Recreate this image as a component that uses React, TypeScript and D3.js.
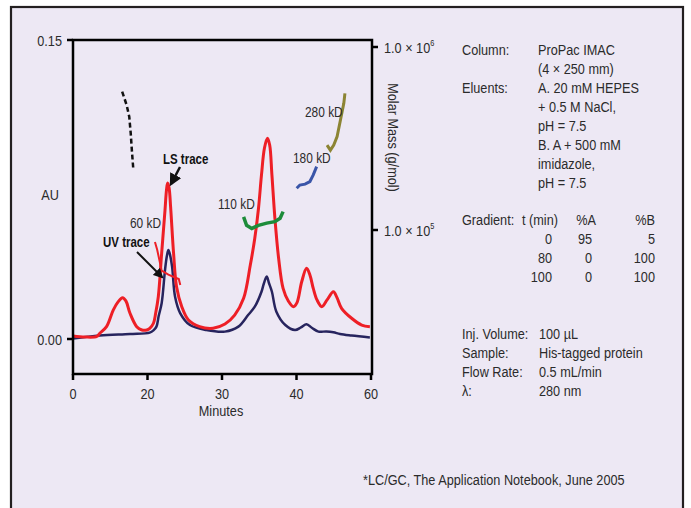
import React from "react";
import * as d3 from "d3";

const width = 691;
const height = 508;

// minutes vs AU
const lsTime = [0, 3.2, 6.4, 7.2, 9.0, 10.8, 12.1, 13.3, 14.2, 15.3, 17.1, 18.5, 19.8, 20.3, 20.8, 21.1, 21.45, 21.9, 22.35, 22.55, 22.7, 22.9, 23.1, 23.5, 23.9, 24.6, 25.5, 27.0, 28.8, 30.4, 31.7, 32.9, 33.8, 34.4, 34.9, 35.3, 35.7, 36.1, 36.4, 36.7, 37.1, 37.6, 38.2, 38.9, 39.6, 40.1, 41.4, 42.7, 43.6, 44.5, 45.5, 46.8, 48.2, 49.9, 50.9, 52.1, 54.8, 57.5, 59.7];
const lsAU = [0.0015, 0.001, 0.0013, 0.0029, 0.0062, 0.0145, 0.0186, 0.0207, 0.0191, 0.0129, 0.0062, 0.0045, 0.0045, 0.0053, 0.0079, 0.013, 0.0212, 0.043, 0.0647, 0.0748, 0.0783, 0.0758, 0.0664, 0.043, 0.0262, 0.0162, 0.0095, 0.0062, 0.0054, 0.0075, 0.012, 0.0204, 0.0371, 0.0505, 0.0656, 0.0823, 0.0958, 0.1007, 0.0973, 0.0823, 0.0606, 0.0405, 0.0254, 0.0191, 0.0162, 0.0181, 0.0287, 0.0355, 0.0321, 0.0254, 0.0196, 0.0162, 0.0196, 0.0237, 0.0206, 0.0154, 0.0104, 0.007, 0.0062];

const uvTime = [0, 7.2, 15.3, 20.3, 20.8, 21.2, 21.5, 21.9, 22.35, 22.6, 22.8, 23.0, 23.3, 23.7, 24.4, 25.7, 27.9, 30.4, 32.2, 33.5, 34.4, 35.3, 35.6, 36.0, 36.3, 36.7, 37.3, 38.5, 39.8, 41.2, 42.7, 44.2, 45.9, 48.0, 49.9, 51.7, 54.8, 59.7];
const uvAU = [0.0002, 0.0017, 0.0025, 0.0032, 0.0043, 0.0062, 0.0115, 0.0179, 0.0346, 0.0416, 0.0447, 0.0426, 0.0363, 0.0212, 0.0129, 0.007, 0.0045, 0.0037, 0.0062, 0.012, 0.0162, 0.0237, 0.0276, 0.0313, 0.0281, 0.0237, 0.0137, 0.007, 0.0045, 0.0058, 0.0074, 0.0055, 0.0037, 0.0038, 0.0034, 0.0025, 0.0017, 0.0007];

// molar mass traces (g/mol)
const massFirstTime = [13.2, 14.4, 15.1, 15.5, 15.8, 16.2];
const massFirst = [570000, 482000, 416000, 337000, 273000, 213000];
const mass60Time = [21.0, 21.3, 21.9, 22.8, 23.7, 24.2, 24.4];
const mass60 = [86000, 78000, 60000, 57000, 55000, 54000, 50000];
const mass110Time = [32.9, 33.3, 34.0, 34.9, 36.0, 37.1, 37.8, 38.2];
const mass110 = [118000, 106000, 102000, 106000, 109000, 111000, 116000, 126000];
const mass180Time = [40.05, 40.9, 42.3, 43.6, 44.5, 45.4];
const mass180 = [169000, 176000, 178000, 184000, 200000, 222000];
const mass280Time = [48.2, 49.1, 50.0, 50.9, 51.8, 52.7, 53.0];
const mass280 = [291000, 273000, 291000, 324000, 399000, 492000, 558000];

const xTicks = [0, 20, 30, 40, 60];
const auTicks = [0, 0.15];
const massTicks = [1e6, 1e5];

const methodLabels = ["Column:", "", "Eluents:", "", "", "", "", ""];
const methodValues = ["ProPac IMAC", "(4 × 250 mm)", "A. 20 mM HEPES", "+ 0.5 M NaCl,", "pH = 7.5", "B. A + 500 mM", "imidazole,", "pH = 7.5"];
const gradTime = ["0", "80", "100"];
const gradA = ["95", "0", "0"];
const gradB = ["5", "100", "100"];
const condLabels = ["Inj. Volume:", "Sample:", "Flow Rate:", "λ:"];
const condValues = ["100 µL", "His-tagged protein", "0.5 mL/min", "280 nm"];

const font = "'Liberation Sans', Arial, sans-serif";
const textColor = "#2b2b2b";
const narrow = 0.82;

// condensed text: Liberation Sans squeezed horizontally
const T = ({ x, y, anchor = "start", size = 15.5, bold = false, rotate = 0, children }: any) => (
  <text
    transform={`translate(${x},${y}) rotate(${rotate}) scale(${narrow},1)`}
    textAnchor={anchor}
    fontSize={size}
    fontWeight={bold ? "bold" : "normal"}
    fill={bold ? "#111" : textColor}
  >
    {children}
  </text>
);

export default function App() {
  const x = d3.scaleLinear().domain(xTicks).range([73, 147.5, 222, 296.5, 371]);
  const yAU = d3.scaleLinear().domain([0, 0.15]).range([339, 40]);
  const yMass = d3.scaleLog().domain([1e5, 1e6]).range([230, 47]);

  const auLine = (ts: number[], vs: number[]) =>
    d3.line<number>().x((d, i) => x(ts[i])).y((d) => yAU(d)).curve(d3.curveCatmullRom)(vs) || "";
  const massLine = (ts: number[], vs: number[]) =>
    d3.line<number>().x((d, i) => x(ts[i])).y((d) => yMass(d)).curve(d3.curveLinear)(vs) || "";

  const rowH = 19.1;

  return (
    <svg width={width} height={height} style={{ position: "absolute", left: 0, top: 0 }} fontFamily={font}>
      <defs>
        <marker id="arrow" viewBox="0 0 10 10" refX="8" refY="5" markerWidth="5" markerHeight="5" orient="auto">
          <path d="M0,0 L10,5 L0,10 z" fill="#111" />
        </marker>
      </defs>
      <rect x={0} y={0} width={width} height={height} fill="#fff" />
      <rect x={11} y={7} width={672} height={530} fill="#ede8f4" stroke="#231f20" strokeWidth={2.2} />

      {/* traces */}
      <path d={auLine(uvTime, uvAU)} fill="none" stroke="#27245e" strokeWidth={2.5} />
      <path d={auLine(lsTime, lsAU)} fill="none" stroke="#ee1f26" strokeWidth={3} />
      <path d={massLine(massFirstTime, massFirst)} fill="none" stroke="#111" strokeWidth={2.5} strokeDasharray="5,3" />
      <path d={massLine(mass60Time, mass60)} fill="none" stroke="#ee1f26" strokeWidth={2} />
      <path d={massLine(mass110Time, mass110)} fill="none" stroke="#1d8c3a" strokeWidth={3.5} />
      <path d={massLine(mass180Time, mass180)} fill="none" stroke="#3a55a8" strokeWidth={3} />
      <path d={massLine(mass280Time, mass280)} fill="none" stroke="#8c8433" strokeWidth={3} />

      {/* plot box */}
      <rect x={73} y={40} width={299} height={334} fill="none" stroke="#000" strokeWidth={2.5} />

      {/* left axis */}
      {auTicks.map((t) => (
        <g key={t}>
          <line x1={67} x2={73} y1={yAU(t)} y2={yAU(t)} stroke="#000" strokeWidth={2.5} />
          <T x={62} y={yAU(t) + 5.5} anchor="end">{t.toFixed(2)}</T>
        </g>
      ))}
      <T x={50} y={200} anchor="middle">AU</T>

      {/* bottom axis */}
      {xTicks.map((t) => (
        <g key={t}>
          <line x1={x(t)} x2={x(t)} y1={374} y2={380} stroke="#000" strokeWidth={2.5} />
          <T x={x(t)} y={399} anchor="middle">{t}</T>
        </g>
      ))}
      <T x={221} y={416} anchor="middle">Minutes</T>

      {/* right axis */}
      {massTicks.map((m) => (
        <g key={m}>
          <line x1={372} x2={378} y1={yMass(m)} y2={yMass(m)} stroke="#000" strokeWidth={2.5} />
          <T x={384} y={yMass(m) + 5.5}>
            1.0 × 10
            <tspan fontSize={9} dy={-7}>{Math.round(Math.log10(m))}</tspan>
          </T>
        </g>
      ))}
      <T x={388} y={137.5} anchor="middle" rotate={90}>Molar Mass (g/mol)</T>

      {/* annotations */}
      <T x={163} y={164} size={14} bold>LS trace</T>
      <line x1={180} y1={167} x2={171} y2={184} stroke="#111" strokeWidth={2.5} markerEnd="url(#arrow)" />
      <T x={103} y={247} size={14} bold>UV trace</T>
      <line x1={137} y1={252} x2={162} y2={277} stroke="#111" strokeWidth={2} markerEnd="url(#arrow)" />
      <T x={130} y={228} size={14.5}>60 kD</T>
      <T x={218} y={209} size={14.5}>110 kD</T>
      <T x={293} y={163} size={14.5}>180 kD</T>
      <T x={305} y={116.5} size={14.5}>280 kD</T>

      {/* method block */}
      {methodValues.map((v, i) => (
        <g key={i}>
          <T x={462} y={54.5 + i * rowH}>{methodLabels[i]}</T>
          <T x={538} y={54.5 + i * rowH}>{v}</T>
        </g>
      ))}
      <T x={462} y={224.5}>Gradient:</T>
      <T x={522} y={224.5}>t (min)</T>
      <T x={596} y={224.5} anchor="end">%A</T>
      <T x={655} y={224.5} anchor="end">%B</T>
      {gradTime.map((t, i) => (
        <g key={i}>
          <T x={552} y={243.5 + i * rowH} anchor="end">{t}</T>
          <T x={592} y={243.5 + i * rowH} anchor="end">{gradA[i]}</T>
          <T x={655} y={243.5 + i * rowH} anchor="end">{gradB[i]}</T>
        </g>
      ))}
      {condLabels.map((l, i) => (
        <g key={l}>
          <T x={462} y={338.5 + i * rowH}>{l}</T>
          <T x={539} y={338.5 + i * rowH}>{condValues[i]}</T>
        </g>
      ))}
      <T x={363} y={485}>*LC/GC, The Application Notebook, June 2005</T>
    </svg>
  );
}
